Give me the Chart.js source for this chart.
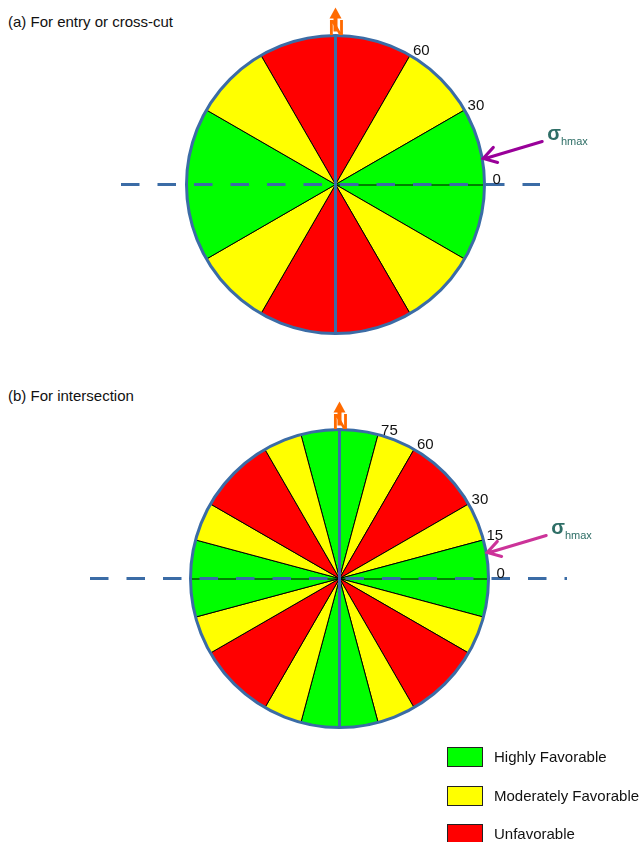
<!DOCTYPE html>
<html>
<head>
<meta charset="utf-8">
<script src="https://cdn.jsdelivr.net/npm/chart.js@4"></script>
<style>
  body { margin: 0; background: #fff; }
  #wrap { position: relative; width: 642px; height: 842px; overflow: hidden; font-family: "Liberation Sans", Arial, sans-serif; color: #111; }
  .title { position: absolute; left: 8px; font-size: 15px; line-height: 18px; white-space: nowrap; }
  canvas { position: absolute; left: 0; }
  .key { position: absolute; left: 447px; width: 34px; height: 18px; border: 1px solid #222; }
  .keytext { position: absolute; left: 494px; font-size: 15px; line-height: 18px; white-space: nowrap; }
</style>
</head>
<body>
<div id="wrap">
  <div class="title" style="top:13px">(a) For entry or cross-cut</div>
  <div class="title" style="top:387px">(b) For intersection</div>
  <canvas id="topChart" width="642" height="390" style="top:0"></canvas>
  <canvas id="bottomChart" width="642" height="452" style="top:390px"></canvas>
  <div id="legend"></div>
</div>
<script>
// rating classes and their fill colours
var ratings = ['Highly Favorable', 'Moderately Favorable', 'Unfavorable'];
var ratingColors = ['#00ff00', '#ffff00', '#ff0000'];

// (a) sector widths in degrees, clockwise from 120 deg
var topSpans = [60, 30, 60, 30, 60, 30, 60, 30];
var topRatings = [2, 1, 0, 1, 2, 1, 0, 1];
var topTicks = [0, 30, 60];

// (b) sector widths in degrees, clockwise from 105 deg
var bottomSpans = [30, 15, 30, 15, 30, 15, 30, 15, 30, 15, 30, 15, 30, 15, 30, 15];
var bottomRatings = [0, 1, 2, 1, 0, 1, 2, 1, 0, 1, 2, 1, 0, 1, 2, 1];
var bottomTicks = [0, 15, 30, 60, 75];

var blue = '#3b6ca6';
var font = '"Liberation Sans", Arial, sans-serif';

var compass = {
    id: 'compass',
    afterDatasetsDraw: function (chart, args, opts) {
        var arc = chart.getDatasetMeta(0).data[0];
        var cx = arc.x, cy = arc.y, r = arc.outerRadius;
        var ctx = chart.ctx;
        ctx.save();

        // thin 0 degree axis
        ctx.strokeStyle = '#000';
        ctx.lineWidth = 1;
        ctx.beginPath();
        ctx.moveTo(opts.axisBoth ? cx - r : cx, cy + 0.5);
        ctx.lineTo(cx + r, cy + 0.5);
        ctx.stroke();

        // dashed E-W line
        ctx.strokeStyle = blue;
        ctx.lineWidth = 3;
        ctx.setLineDash([18.5, 18]);
        ctx.beginPath();
        ctx.moveTo(opts.dashFrom, cy);
        ctx.lineTo(opts.dashTo, cy);
        ctx.stroke();
        ctx.setLineDash([]);

        // N-S line and rim
        ctx.beginPath();
        ctx.moveTo(cx, cy - r);
        ctx.lineTo(cx, cy + r);
        ctx.stroke();
        ctx.beginPath();
        ctx.arc(cx, cy, r, 0, 2 * Math.PI);
        ctx.stroke();

        // angle labels
        ctx.fillStyle = '#111';
        ctx.font = '15px ' + font;
        ctx.textAlign = 'left';
        ctx.textBaseline = 'alphabetic';
        opts.ticks.forEach(function (t) {
            var a = t * Math.PI / 180;
            var px = cx + r * Math.cos(a), py = cy - r * Math.sin(a);
            if (t === 0) ctx.fillText(String(t), px + 8, py - 1);
            else ctx.fillText(String(t), px + 3, py);
        });

        // north arrow
        var ty = cy - r;
        ctx.fillStyle = '#ff6a00';
        ctx.beginPath();
        ctx.moveTo(cx, ty - 28);
        ctx.lineTo(cx + 6, ty - 17);
        ctx.lineTo(cx - 6, ty - 17);
        ctx.closePath();
        ctx.fill();
        ctx.fillRect(cx - 2, ty - 18, 4, 14);
        ctx.font = 'bold 22px ' + font;
        ctx.textAlign = 'center';
        ctx.fillText('N', cx + 1, ty - 1);

        // sigma hmax arrow
        var a = 10 * Math.PI / 180;
        var tipX = cx + (r + 1) * Math.cos(a), tipY = cy - (r + 1) * Math.sin(a);
        var tailX = tipX + 59, tailY = tipY - 17;
        var ang = Math.atan2(tipY - tailY, tipX - tailX);
        ctx.strokeStyle = opts.arrowColor;
        ctx.lineWidth = 3;
        ctx.lineCap = 'round';
        ctx.beginPath();
        ctx.moveTo(tailX, tailY);
        ctx.lineTo(tipX + 2, tipY);
        ctx.moveTo(tipX - 15 * Math.cos(ang - 0.55), tipY - 15 * Math.sin(ang - 0.55));
        ctx.lineTo(tipX, tipY);
        ctx.lineTo(tipX - 15 * Math.cos(ang + 0.55), tipY - 15 * Math.sin(ang + 0.55));
        ctx.stroke();

        ctx.fillStyle = '#2e6e66';
        ctx.textAlign = 'left';
        ctx.font = 'bold 20px ' + font;
        ctx.fillText('\u03c3', tailX + 5, tailY - 1);
        var w = ctx.measureText('\u03c3').width;
        ctx.font = '11px ' + font;
        ctx.fillText('hmax', tailX + 5 + w, tailY + 4);
        ctx.restore();
    }
};

function makeRose(id, spans, rates, rotation, pad, extra) {
    return new Chart(document.getElementById(id), {
        type: 'pie',
        data: {
            labels: rates.map(function (k) { return ratings[k]; }),
            datasets: [{
                data: spans,
                backgroundColor: rates.map(function (k) { return ratingColors[k]; }),
                borderColor: '#000',
                borderWidth: 1
            }]
        },
        options: {
            responsive: false,
            animation: false,
            rotation: rotation,
            layout: { padding: pad },
            plugins: {
                legend: { display: false },
                tooltip: { enabled: false },
                compass: extra
            }
        },
        plugins: [compass]
    });
}

makeRose('topChart', topSpans, topRatings, -30,
    { left: 186, right: 157, top: 35, bottom: 56 },
    { ticks: topTicks, axisBoth: false, dashFrom: 121, dashTo: 540, arrowColor: '#990099' });

makeRose('bottomChart', bottomSpans, bottomRatings, -15,
    { left: 190, right: 153, top: 39, bottom: 114 },
    { ticks: bottomTicks, axisBoth: true, dashFrom: 90, dashTo: 567, arrowColor: '#cc3399' });

// legend
var legend = document.getElementById('legend');
var keyTops = [747, 786, 824];
ratings.forEach(function (name, i) {
    var box = document.createElement('div');
    box.className = 'key';
    box.style.top = keyTops[i] + 'px';
    box.style.background = ratingColors[i];
    legend.appendChild(box);
    var txt = document.createElement('div');
    txt.className = 'keytext';
    txt.style.top = (keyTops[i] + 1) + 'px';
    txt.textContent = name;
    legend.appendChild(txt);
});
</script>
</body>
</html>
